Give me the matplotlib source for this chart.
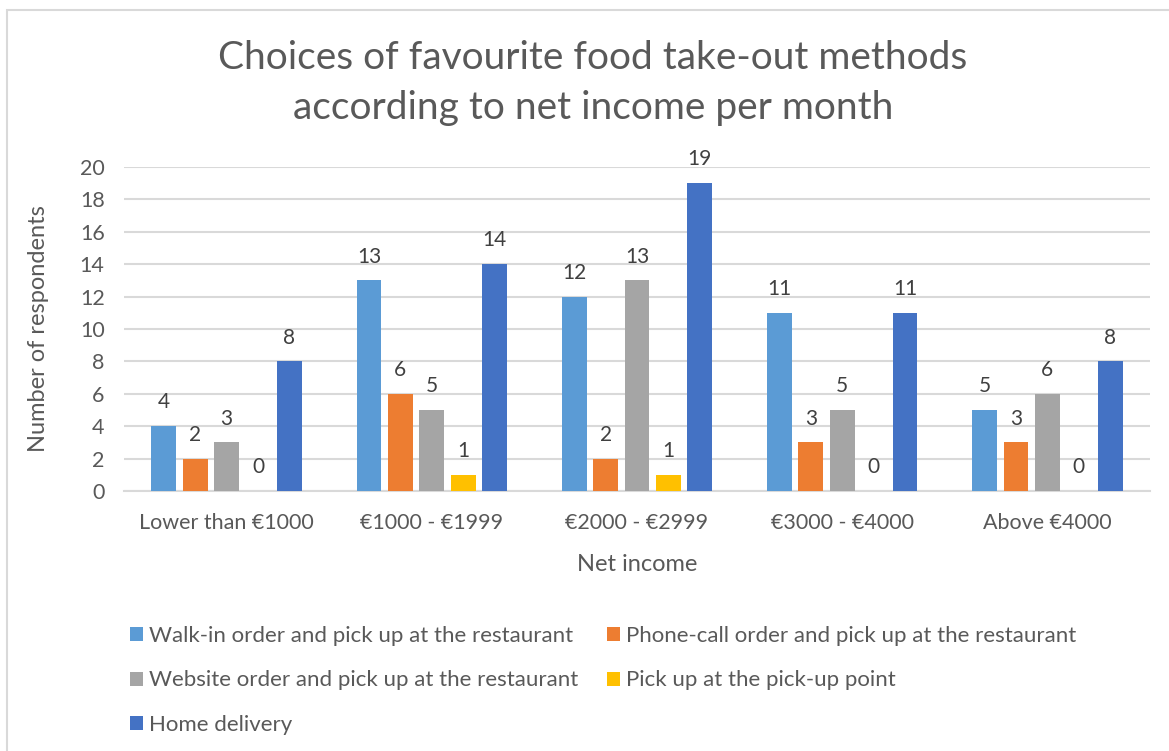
import matplotlib.pyplot as plt
from matplotlib.patches import Rectangle
import numpy as np

plt.rcParams['font.family'] = ['Lato', 'DejaVu Sans']

# net income groups and how many respondents picked each take-out method
income_groups = ["Lower than €1000", "€1000 - €1999", "€2000 - €2999",
                 "€3000 - €4000", "Above €4000"]
methods = ["Walk-in order and pick up at the restaurant",
           "Phone-call order and pick up at the restaurant",
           "Website order and pick up at the restaurant",
           "Pick up at the pick-up point",
           "Home delivery"]
walk_in = [4, 13, 12, 11, 5]
phone_call = [2, 6, 2, 3, 3]
website = [3, 5, 13, 5, 6]
pickup_point = [0, 1, 1, 0, 0]
home_delivery = [8, 14, 19, 11, 8]

series = [walk_in, phone_call, website, pickup_point, home_delivery]
colors = ["#5B9BD5", "#ED7D31", "#A5A5A5", "#FFC000", "#4472C4"]
text_gray = "#595959"

fig = plt.figure(figsize=(11.69, 7.51), dpi=100)
# light chart border
fig.patches.append(Rectangle((7 / 1169, -0.1), 1.2, (751 - 10) / 751 + 0.1,
                             transform=fig.transFigure, fill=False,
                             edgecolor="#D9D9D9", linewidth=1.5))

ax = fig.add_axes([124 / 1169, 1 - 491 / 751, (1150 - 124) / 1169, (491 - 167) / 751])

x = np.arange(len(income_groups))
pitch = 0.153
width = 0.12
for i, (vals, col) in enumerate(zip(series, colors)):
    pos = x + (i - 2) * pitch
    ax.bar(pos, vals, width=width, color=col, label=methods[i], zorder=3)
    for p, v in zip(pos, vals):
        ax.annotate(str(v), (p, v), xytext=(0, 10), textcoords="offset points",
                    ha="center", va="bottom", fontsize=15, color="#404040")

ax.set_xlim(-0.5, len(income_groups) - 0.5)
ax.set_ylim(0, 20)
ax.set_yticks(range(0, 21, 2))
ax.set_xticks(x)
ax.set_xticklabels(income_groups)
ax.grid(axis="y", color="#D9D9D9", linewidth=1.5, zorder=0)
for s in ["top", "right", "left"]:
    ax.spines[s].set_visible(False)
ax.spines["bottom"].set_color("#D9D9D9")
ax.spines["bottom"].set_linewidth(1.5)
ax.tick_params(axis="both", length=0, labelsize=15.5, colors=text_gray)
ax.tick_params(axis="x", pad=16)
ax.tick_params(axis="y", pad=14)

ax.set_xlabel("Net income", fontsize=17, color=text_gray, labelpad=15)
ax.set_ylabel("Number of respondents", fontsize=17, color=text_gray, labelpad=22)

fig.text(593 / 1169, 1 - 83 / 751,
         "Choices of favourite food take-out methods\naccording to net income per month",
         ha="center", va="center", fontsize=28, color=text_gray, linespacing=1.45)

# reorder so the legend reads row by row
handles, labels = ax.get_legend_handles_labels()
order = [0, 2, 4, 1, 3]
leg = fig.legend([handles[k] for k in order], [labels[k] for k in order],
                 loc="upper left", bbox_to_anchor=(110 / 1169, 1 - 606 / 751),
                 ncol=2, frameon=False, fontsize=16, labelcolor=text_gray,
                 handlelength=0.6, handleheight=0.6, handletextpad=0.25,
                 columnspacing=1.3, labelspacing=1.1)

fig.savefig("out.png", dpi=100)
